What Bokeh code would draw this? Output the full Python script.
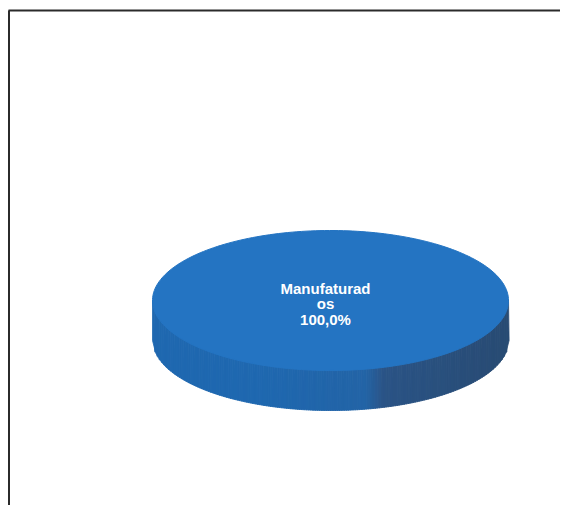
import numpy as np
from bokeh.plotting import figure
from bokeh.models import Range1d
from bokeh.core.properties import value
from bokeh.embed import file_html
from bokeh.resources import INLINE

# ---- data ----
categories = ["Manufaturados"]
values = [100.0]
colors_top = ["#2474c2"]
colors_side_front = ["#1f68b0"]
colors_side_back = ["#284b73"]

W, H = 560, 505
p = figure(width=W, height=H, output_backend="svg", toolbar_location=None,
           x_range=Range1d(0, W), y_range=Range1d(0, H),
           min_border=0, outline_line_color=None)
p.axis.visible = False
p.grid.visible = False
p.background_fill_color = "white"
p.border_fill_color = "white"

# frame lines (top and left)
p.line([8, W], [495, 495], line_color="#2b2b2b", line_width=2)
p.line([8.5, 8.5], [0, 495], line_color="#2b2b2b", line_width=2)

# pie geometry (pixel units)
cx, cy, a, b, depth = 330, 205, 178, 70, 40

total = sum(values)
ends = np.cumsum(values) / total * 2 * np.pi
starts = np.concatenate([[0], ends[:-1]])

def hexmix(c1, c2, t):
    c1 = [int(c1[i:i + 2], 16) for i in (1, 3, 5)]
    c2 = [int(c2[i:i + 2], 16) for i in (1, 3, 5)]
    return "#%02x%02x%02x" % tuple(int(round(c1[k] + (c2[k] - c1[k]) * t)) for k in range(3))

# side of cylinder as shaded strips
N = 160
xs_edges = np.linspace(cx - a, cx + a, N + 1)
sx, sy, sc = [], [], []
for i in range(N):
    x0, x1 = xs_edges[i], xs_edges[i + 1]
    y0 = cy - b * np.sqrt(max(0.0, 1 - ((x0 - cx) / a) ** 2))
    y1 = cy - b * np.sqrt(max(0.0, 1 - ((x1 - cx) / a) ** 2))
    xm = (x0 + x1) / 2
    u = (xm - (cx - a)) / (2 * a)
    if u < 0.3:
        col = hexmix("#1f68b0", colors_side_front[0], u / 0.3)
    elif u < 0.6:
        col = hexmix(colors_side_front[0], "#2364a6", (u - 0.3) / 0.3)
    elif u < 0.65:
        col = hexmix("#2364a6", "#2b5486", (u - 0.6) / 0.05)
    else:
        col = hexmix("#2b5486", colors_side_back[0], (u - 0.65) / 0.35)
    sx.append([x0, x1, x1 + 0.6, x0])
    sy.append([y0 + 0.5, y1 + 0.5, y1 - depth, y0 - depth])
    sc.append(col)
p.patches(sx, sy, fill_color=sc, line_color=sc, line_width=0.8)

# top face slices
for s, e, c in zip(starts, ends, colors_top):
    t = np.linspace(s, e, 240)
    px = cx + a * np.cos(t)
    py = cy + b * np.sin(t)
    if e - s < 2 * np.pi - 1e-9:
        px = np.concatenate([[cx], px])
        py = np.concatenate([[cy], py])
    p.patch(px, py, fill_color=c, line_color=c, line_width=1)

# labels
for cat, v, s, e in zip(categories, values, starts, ends):
    pct = ("%.1f%%" % (v / total * 100)).replace(".", ",")
    lines = [cat[:11], cat[11:], pct]
    ys = [cy + 12, cy - 3, cy - 19]
    for txt, yy in zip(lines, ys):
        p.text(x=[cx - 5], y=[yy], text=[txt], text_color="white",
               text_font=value("Liberation Sans"), text_font_style="bold",
               text_font_size="15px", text_align="center",
               text_baseline="alphabetic")

open("out.html", "w").write(file_html(p, INLINE))
